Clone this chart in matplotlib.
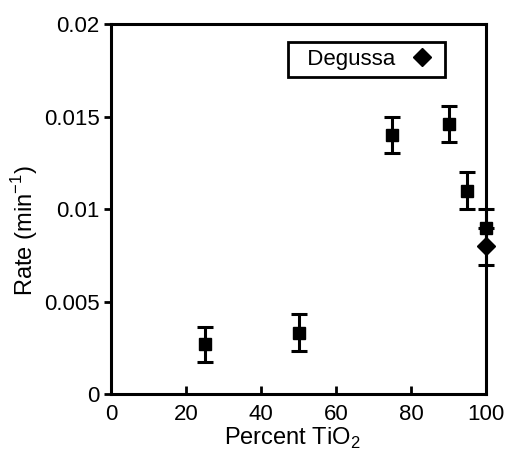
import matplotlib
matplotlib.use("Agg")
import matplotlib.pyplot as plt
from matplotlib.lines import Line2D

plt.rcParams['font.family'] = ['Liberation Sans', 'DejaVu Sans']
plt.rcParams['mathtext.fontset'] = 'custom'
plt.rcParams['mathtext.rm'] = 'Liberation Sans'

percent = [25, 50, 75, 90, 95, 100]
rate = [0.0027, 0.0033, 0.0140, 0.0146, 0.0110, 0.0090]
rate_err = [0.00095, 0.00100, 0.00098, 0.00097, 0.00100, 0.00100]
degussa_x = [100]
degussa_rate = [0.0080]
degussa_err = [0.0010]
xticks = [0, 20, 40, 60, 80, 100]
yticks = [0, 0.005, 0.01, 0.015, 0.02]
ytick_labels = ['0', '0.005', '0.01', '0.015', '0.02']

fig = plt.figure(figsize=(5.09, 4.55), dpi=100)
ax = fig.add_axes([0.218, 0.134, 0.737, 0.813])

ax.errorbar(percent, rate, yerr=rate_err, fmt='s', color='black', ms=9,
            elinewidth=2.2, capsize=5.5, capthick=2.2, clip_on=False, zorder=3)
ax.errorbar(degussa_x, degussa_rate, yerr=degussa_err, fmt='D', color='black', ms=9,
            elinewidth=2.2, capsize=5.5, capthick=2.2, clip_on=False, zorder=3)

ax.set_xlim(0, 100)
ax.set_ylim(0, 0.02)
ax.set_xticks(xticks)
ax.set_xticklabels([str(t) for t in xticks])
ax.set_yticks(yticks)
ax.set_yticklabels(ytick_labels)
ax.tick_params(axis='x', direction='in', length=6, width=2, labelsize=16, pad=7)
ax.tick_params(axis='y', direction='out', length=5, width=2, labelsize=16, pad=3)
for s in ax.spines.values():
    s.set_linewidth(2.2)

ax.set_xlabel('Percent TiO$_{\\mathregular{2}}$', fontsize=17, labelpad=1)
ax.set_ylabel('Rate (min$^{\\mathregular{-1}}$)', fontsize=17, labelpad=3)
ax.xaxis.label.set_x(0.483)
ax.yaxis.label.set_y(0.443)

handle = Line2D([], [], marker='D', color='black', ls='none', ms=9)
leg = ax.legend([handle], ['  Degussa'], loc='center left', bbox_to_anchor=(0.472, 0.904),
                markerfirst=False, fancybox=False, framealpha=1, edgecolor='black',
                fontsize=16, borderpad=0.3, handlelength=1.45, handletextpad=0.5,
                borderaxespad=0)
leg.get_frame().set_linewidth(2)

fig.savefig('out.png', dpi=100)
